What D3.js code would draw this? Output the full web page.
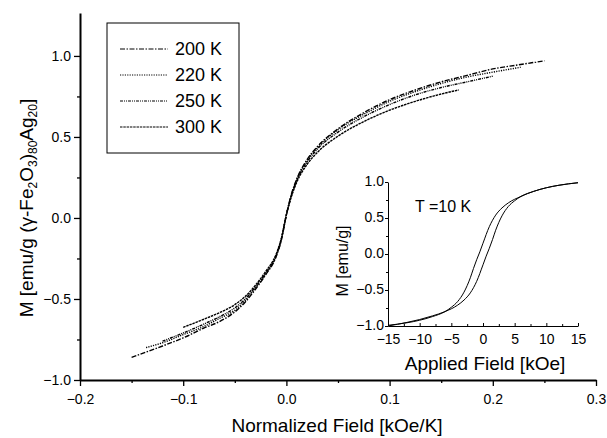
<!DOCTYPE html>
<html>
<head>
<meta charset="utf-8">
<script src="https://cdn.jsdelivr.net/npm/d3@7"></script>
<style>
  body { margin: 0; background: #fff; }
  text { font-family: "Liberation Sans", Arial, sans-serif; fill: #000; }
</style>
</head>
<body>
<div id="main"></div>
<script>
// main panel: M vs H/T, one array of [H/T, M] per temperature
var temps = ["200 K", "220 K", "250 K", "300 K"];
var loop200 = [[-0.15,-0.86],[-0.12,-0.79],[-0.1,-0.74],[-0.08,-0.68],[-0.065,-0.64],[-0.05,-0.58],[-0.04,-0.52],[-0.03,-0.44],[-0.02,-0.35],[-0.01,-0.24],[-0.005,-0.14],[0,0.02],[0.005,0.15],[0.01,0.24],[0.02,0.36],[0.03,0.44],[0.05,0.55],[0.075,0.65],[0.1,0.73],[0.125,0.79],[0.15,0.84],[0.175,0.88],[0.2,0.92],[0.225,0.945],[0.25,0.97]];
var loop220 = [[-0.136,-0.80],[-0.12,-0.77],[-0.1,-0.72],[-0.08,-0.67],[-0.065,-0.62],[-0.05,-0.57],[-0.04,-0.51],[-0.03,-0.43],[-0.02,-0.345],[-0.01,-0.235],[-0.005,-0.135],[0,0.02],[0.005,0.145],[0.01,0.235],[0.02,0.355],[0.03,0.435],[0.05,0.545],[0.075,0.64],[0.1,0.72],[0.125,0.78],[0.15,0.83],[0.175,0.87],[0.2,0.90],[0.227,0.93]];
var loop250 = [[-0.12,-0.76],[-0.1,-0.71],[-0.08,-0.655],[-0.065,-0.61],[-0.05,-0.555],[-0.04,-0.50],[-0.03,-0.425],[-0.02,-0.34],[-0.01,-0.23],[-0.005,-0.13],[0,0.02],[0.005,0.14],[0.01,0.23],[0.02,0.345],[0.03,0.425],[0.05,0.53],[0.075,0.625],[0.1,0.70],[0.125,0.76],[0.15,0.805],[0.175,0.84],[0.2,0.875]];
var loop300 = [[-0.1,-0.675],[-0.08,-0.625],[-0.065,-0.585],[-0.05,-0.535],[-0.04,-0.485],[-0.03,-0.415],[-0.02,-0.33],[-0.01,-0.225],[-0.005,-0.13],[0,0.02],[0.005,0.135],[0.01,0.22],[0.02,0.33],[0.03,0.405],[0.05,0.505],[0.075,0.595],[0.1,0.665],[0.125,0.72],[0.15,0.765],[0.167,0.79]];

// inset: 10 K loop, [H kOe, M]
var up10K = [[-15,-1.0],[-12,-0.95],[-10,-0.91],[-8,-0.86],[-6,-0.80],[-4,-0.71],[-3,-0.64],[-2,-0.54],[-1,-0.38],[0,-0.15],[0.5,-0.03],[1,0.08],[1.5,0.2],[2,0.33],[3,0.53],[4,0.66],[5,0.74],[6,0.80],[8,0.87],[10,0.92],[12,0.955],[15,0.99]];
var down10K = [[15,0.99],[12,0.955],[10,0.92],[8,0.87],[6,0.80],[4,0.71],[3,0.64],[2,0.54],[1,0.38],[0,0.15],[-0.5,0.03],[-1,-0.08],[-1.5,-0.2],[-2,-0.33],[-3,-0.53],[-4,-0.66],[-5,-0.74],[-6,-0.80],[-8,-0.87],[-10,-0.92],[-12,-0.955],[-15,-0.99]];

var xTicks = [-0.2, -0.1, 0.0, 0.1, 0.2, 0.3];
var xMinor = [-0.15, -0.05, 0.05, 0.15, 0.25];
var yTicks = [-1.0, -0.5, 0.0, 0.5, 1.0];
var yMinor = [-0.75, -0.25, 0.25, 0.75];
var inXTicks = [-15, -10, -5, 0, 5, 10, 15];
var inXMinor = [-12.5, -7.5, -2.5, 2.5, 7.5, 12.5];
var inYTicks = [-1.0, -0.5, 0.0, 0.5, 1.0];
var inYMinor = [-0.75, -0.25, 0.25, 0.75];

var dashes = ["5,1.5,1.5,1.5", "1.2,1.2", "3,1,1,1,1,1", "2.5,0.8"];

var ctx = { w: 607, h: 438 };

var svg = d3.select("#main").append("svg")
    .attr("width", ctx.w)
    .attr("height", ctx.h);

var x = d3.scaleLinear().domain([-0.2, 0.3]).range([80, 596]);
var y = d3.scaleLinear().domain([-1, 1.265]).range([380, 13]);

// main axes
var xAxis = svg.append("g").attr("transform", "translate(0,380)")
    .call(d3.axisBottom(x).tickValues(xTicks).tickSize(6).tickSizeOuter(0).tickFormat(d3.format(".1f")));
svg.append("g").attr("transform", "translate(0,380)")
    .call(d3.axisBottom(x).tickValues(xMinor).tickSize(3).tickFormat(""))
    .select(".domain").remove();
var yAxis = svg.append("g").attr("transform", "translate(80,0)")
    .call(d3.axisLeft(y).tickValues(yTicks).tickSize(6).tickSizeOuter(0).tickFormat(d3.format(".1f")));
svg.append("g").attr("transform", "translate(80,0)")
    .call(d3.axisLeft(y).tickValues(yMinor).tickSize(3).tickFormat(""))
    .select(".domain").remove();

svg.selectAll(".domain").attr("stroke-width", 2);
svg.selectAll(".tick line").attr("stroke-width", 1.3);
xAxis.selectAll("text").attr("font-size", 14).attr("dy", "1.1em");
yAxis.selectAll("text").attr("font-size", 14);
svg.selectAll(".tick text").attr("fill", "#000").style("font-family", "Liberation Sans, Arial, sans-serif");

svg.append("text")
    .attr("x", 337).attr("y", 432)
    .attr("text-anchor", "middle")
    .attr("font-size", 19)
    .text("Normalized Field [kOe/K]");

var ylab = svg.append("text")
    .attr("transform", "translate(33,208) rotate(-90)")
    .attr("text-anchor", "middle")
    .attr("font-size", 19);
ylab.append("tspan").text("M [emu/g (γ-Fe");
ylab.append("tspan").attr("font-size", 12).attr("dy", 4).text("2");
ylab.append("tspan").attr("dy", -4).text("O");
ylab.append("tspan").attr("font-size", 12).attr("dy", 4).text("3");
ylab.append("tspan").attr("dy", -4).text(")");
ylab.append("tspan").attr("font-size", 12).attr("dy", 4).text("80");
ylab.append("tspan").attr("dy", -4).text("Ag");
ylab.append("tspan").attr("font-size", 12).attr("dy", 4).text("20");
ylab.append("tspan").attr("dy", -4).text("]");

// curves
var line = d3.line().x(function(d){ return x(d[0]); }).y(function(d){ return y(d[1]); }).curve(d3.curveMonotoneX);
var loops = [loop200, loop220, loop250, loop300];
svg.append("g").selectAll("path.loop")
    .data(loops)
    .enter()
    .append("path")
    .attr("class", "loop")
    .attr("d", line)
    .attr("fill", "none")
    .attr("stroke", "#000")
    .attr("stroke-width", 1.4)
    .attr("stroke-dasharray", function(d, i){ return dashes[i]; });

// legend
var lg = svg.append("g");
lg.append("rect").attr("x", 107).attr("y", 23).attr("width", 132).attr("height", 130)
    .attr("fill", "#fff").attr("stroke", "#000").attr("stroke-width", 1);
var ly = d3.scalePoint().domain(temps).range([49, 127]);
temps.forEach(function(t, i){
    lg.append("line").attr("x1", 120).attr("x2", 168).attr("y1", ly(t)).attr("y2", ly(t))
        .attr("stroke", "#000").attr("stroke-width", 1).attr("stroke-dasharray", dashes[i]);
    lg.append("text").attr("x", 175).attr("y", ly(t)).attr("dy", "0.36em")
        .attr("font-size", 18).text(t);
});

// inset
var ix = d3.scaleLinear().domain([-15, 15]).range([388, 578]);
var iy = d3.scaleLinear().domain([-1, 1]).range([326, 182]);
var inset = svg.append("g");
var ixAxis = inset.append("g").attr("transform", "translate(0,326)")
    .call(d3.axisBottom(ix).tickValues(inXTicks).tickSize(-3).tickSizeOuter(0).tickFormat(d3.format("d")));
inset.append("g").attr("transform", "translate(0,326)")
    .call(d3.axisBottom(ix).tickValues(inXMinor).tickSize(-2).tickFormat(""))
    .select(".domain").remove();
var iyAxis = inset.append("g").attr("transform", "translate(388,0)")
    .call(d3.axisLeft(iy).tickValues(inYTicks).tickSize(3).tickSizeOuter(0).tickFormat(d3.format(".1f")));
inset.append("g").attr("transform", "translate(388,0)")
    .call(d3.axisLeft(iy).tickValues(inYMinor).tickSize(2).tickFormat(""))
    .select(".domain").remove();
ixAxis.selectAll("text").attr("font-size", 14).attr("y", 5).attr("dy", "0.9em");
iyAxis.selectAll("text").attr("font-size", 14).attr("x", -4).attr("dy", "0.28em");
inset.selectAll(".tick text").attr("fill", "#000").style("font-family", "Liberation Sans, Arial, sans-serif");
inset.selectAll(".domain").attr("stroke-width", 1);

var iline = d3.line().x(function(d){ return ix(d[0]); }).y(function(d){ return iy(d[1]); }).curve(d3.curveMonotoneX);
inset.selectAll("path.branch")
    .data([up10K, down10K.slice().reverse()])
    .enter()
    .append("path")
    .attr("class", "branch")
    .attr("d", iline)
    .attr("fill", "none")
    .attr("stroke", "#000")
    .attr("stroke-width", 1);

inset.append("text").attr("x", 415).attr("y", 212).attr("font-size", 16).text("T =10 K");
inset.append("text").attr("x", 485).attr("y", 370).attr("text-anchor", "middle")
    .attr("font-size", 19).text("Applied Field [kOe]");
inset.append("text").attr("transform", "translate(348,261) rotate(-90)")
    .attr("text-anchor", "middle").attr("font-size", 16).text("M [emu/g]");
</script>
</body>
</html>
